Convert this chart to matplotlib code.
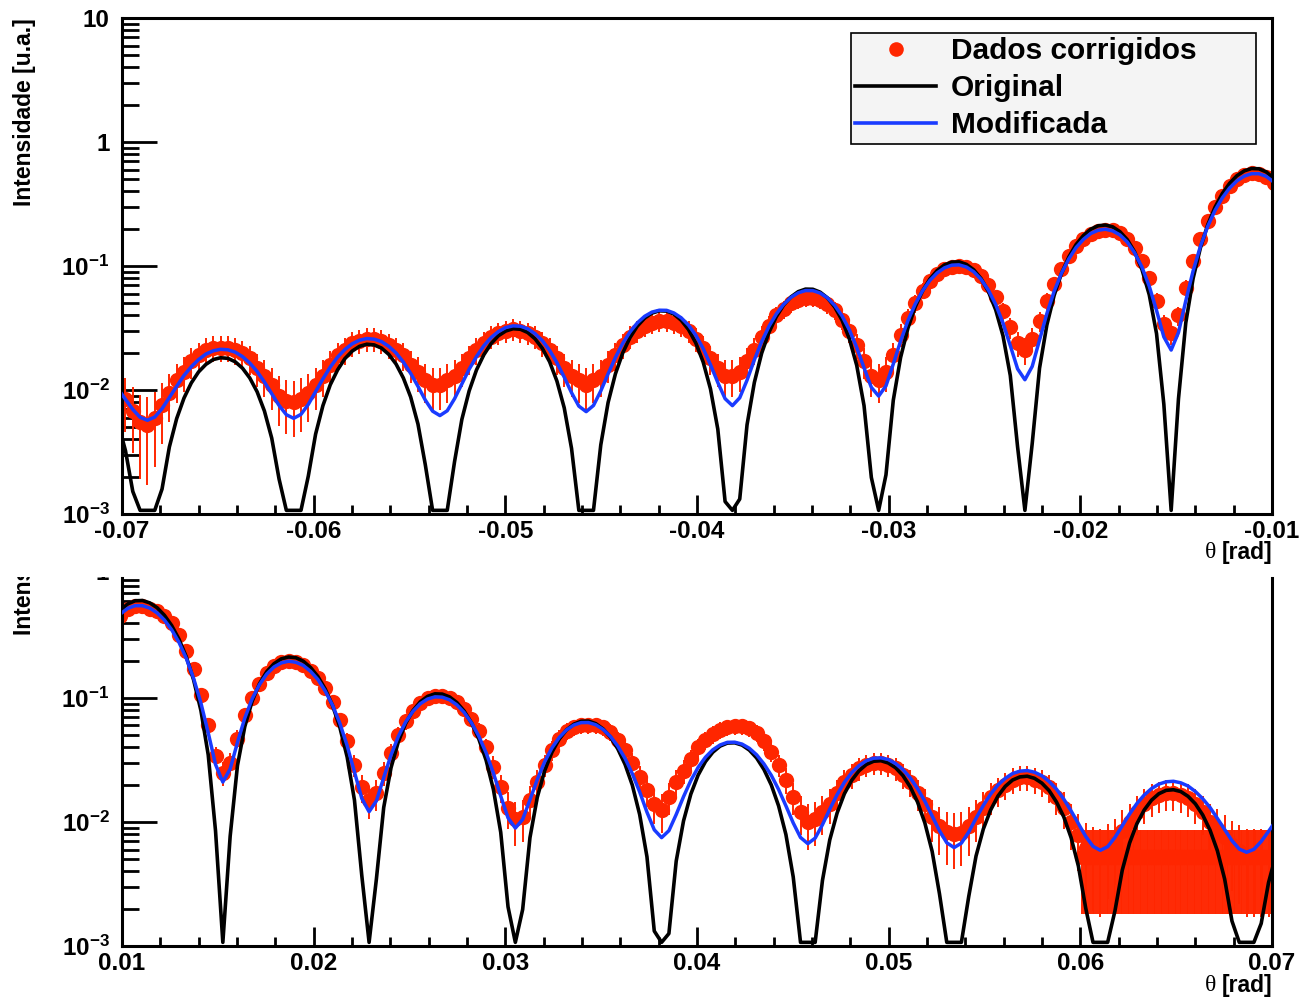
import numpy as np
import matplotlib
matplotlib.use("Agg")
import matplotlib.pyplot as plt
from matplotlib.lines import Line2D
from matplotlib.ticker import LogLocator, MultipleLocator, NullFormatter
from matplotlib.transforms import Bbox, TransformedBbox, blended_transform_factory

plt.rcParams['font.family'] = ['Liberation Sans', 'DejaVu Sans']
plt.rcParams['font.weight'] = 'bold'
plt.rcParams['mathtext.fontset'] = 'custom'
plt.rcParams['mathtext.rm'] = 'Liberation Sans:bold'
plt.rcParams['mathtext.it'] = 'Liberation Sans:bold'
plt.rcParams['mathtext.bf'] = 'Liberation Sans:bold'
plt.rcParams['axes.unicode_minus'] = False

# |theta| sampling positions [rad], shared by both halves of the pattern
theta_abs = np.linspace(0.00992, 0.07020, 159)

# Model curves (symmetric in theta)
original = [
    0.510, 0.574, 0.608, 0.611, 0.585, 0.535, 0.465, 0.384, 0.298, 0.215, 0.140, 0.0793, 0.0348, 0.00848, 0,
    0.00767, 0.0285, 0.0587, 0.0940, 0.130, 0.163, 0.189, 0.207, 0.214, 0.211, 0.198, 0.176, 0.149, 0.118, 0.0871, 0.0580, 0.0334, 0.0150, 0.00371, 0,
    0.00347, 0.0131, 0.0274, 0.0444, 0.0624, 0.0792, 0.0932, 0.103, 0.108, 0.1075, 0.102, 0.0919, 0.0785, 0.0630, 0.0468, 0.0315, 0.0183, 0.00827, 0.00207, 0,
    0.00197, 0.00748, 0.0158, 0.0258, 0.0365, 0.0466, 0.0553, 0.0615, 0.0649, 0.0651, 0.0621, 0.0563, 0.0484, 0.0390, 0.0292, 0.0198, 0.0115, 0.00524, 0.00132, 0,
    0.00126, 0.00484, 0.0102, 0.0168, 0.0239, 0.0307, 0.0365, 0.0409, 0.0433, 0.0435, 0.0417, 0.0380, 0.0328, 0.0265, 0.0199, 0.0135, 0.00793, 0.00361, 0.00091, 0,
    0.00088, 0.00338, 0.00718, 0.0118, 0.0169, 0.0217, 0.0259, 0.0291, 0.0309, 0.0312, 0.0299, 0.0274, 0.0237, 0.0192, 0.0145, 0.00984, 0.00579, 0.00264, 0.00067, 0,
    0.00065, 0.00250, 0.00531, 0.00878, 0.0125, 0.0162, 0.0194, 0.0218, 0.0231, 0.0234, 0.0225, 0.0206, 0.0179, 0.0145, 0.0110, 0.00748, 0.00441, 0.00202, 0.00051, 0,
    0.00050, 0.00192, 0.00409, 0.00677, 0.00968, 0.0125, 0.0150, 0.0169, 0.0180, 0.0182, 0.0176, 0.0161, 0.0140, 0.0114, 0.0086, 0.00588, 0.00347, 0.00159, 0.00040, 0,
    0.00039, 0.00152, 0.00324, 0.00538,
]
modificada = [
    0.477, 0.528, 0.555, 0.555, 0.531, 0.486, 0.426, 0.355, 0.281, 0.209, 0.144, 0.0912, 0.0524, 0.0291, 0.0210,
    0.0268, 0.0438, 0.0688, 0.0982, 0.128, 0.156, 0.178, 0.192, 0.198, 0.194, 0.183, 0.164, 0.141, 0.114, 0.0875, 0.0625, 0.0413, 0.0253, 0.0155, 0.0121,
    0.0148, 0.0228, 0.0347, 0.0490, 0.0640, 0.0781, 0.0899, 0.0981, 0.1021, 0.1015, 0.0967, 0.0880, 0.0765, 0.0631, 0.0493, 0.0362, 0.0248, 0.0162, 0.0108, 0.00893,
    0.0105, 0.0151, 0.0220, 0.0305, 0.0395, 0.0480, 0.0553, 0.0605, 0.0633, 0.0634, 0.0608, 0.0558, 0.0490, 0.0410, 0.0326, 0.0245, 0.0175, 0.0120, 0.00865, 0.00748,
    0.00851, 0.0115, 0.0160, 0.0216, 0.0276, 0.0333, 0.0382, 0.0418, 0.0439, 0.0440, 0.0425, 0.0393, 0.0348, 0.0294, 0.0238, 0.0183, 0.0135, 0.00983, 0.0075, 0.00669,
    0.00741, 0.00951, 0.0127, 0.0166, 0.0209, 0.0250, 0.0285, 0.0312, 0.0327, 0.0329, 0.0319, 0.0296, 0.0265, 0.0227, 0.0186, 0.0147, 0.0112, 0.0085, 0.0068, 0.00622,
    0.00675, 0.0083, 0.0107, 0.0136, 0.0168, 0.0199, 0.0225, 0.0246, 0.0257, 0.0260, 0.0252, 0.0236, 0.0212, 0.0184, 0.0153, 0.0123, 0.0097, 0.00765, 0.00636, 0.00591,
    0.00632, 0.00751, 0.00935, 0.0116, 0.0141, 0.0165, 0.0186, 0.0202, 0.0211, 0.0213, 0.0207, 0.0195, 0.0176, 0.0154, 0.0131, 0.0107, 0.0087, 0.00707, 0.00605, 0.0057,
    0.00602, 0.00697, 0.0084, 0.0102,
]

# Corrected data, negative side (ordered by |theta|)
dados_neg = [
    0.47, 0.52, 0.55, 0.56, 0.54, 0.50, 0.44, 0.37, 0.30, 0.23, 0.165, 0.11, 0.067, 0.040, 0.029,
    0.034, 0.052, 0.080, 0.11, 0.14, 0.165, 0.185, 0.195, 0.195, 0.19, 0.18, 0.165, 0.145, 0.12, 0.095, 0.072, 0.052, 0.036, 0.026, 0.021,
    0.024, 0.032, 0.043, 0.056, 0.070, 0.083, 0.093, 0.099, 0.10, 0.099, 0.094, 0.086, 0.075, 0.063, 0.050, 0.038, 0.028, 0.019, 0.014, 0.012,
    0.013, 0.017, 0.023, 0.030, 0.037, 0.044, 0.049, 0.053, 0.055, 0.055, 0.053, 0.050, 0.045, 0.040, 0.033, 0.027, 0.021, 0.017, 0.014, 0.013,
    0.013, 0.015, 0.018, 0.022, 0.026, 0.030, 0.033, 0.035, 0.036, 0.036, 0.035, 0.033, 0.030, 0.027, 0.023, 0.019, 0.016, 0.013, 0.012, 0.011,
    0.012, 0.013, 0.015, 0.018, 0.021, 0.024, 0.027, 0.029, 0.030, 0.031, 0.030, 0.029, 0.027, 0.024, 0.021, 0.018, 0.015, 0.013, 0.012, 0.011,
    0.011, 0.012, 0.014, 0.016, 0.019, 0.021, 0.023, 0.025, 0.026, 0.026, 0.025, 0.024, 0.021, 0.019, 0.016, 0.013, 0.011, 0.0095, 0.0085, 0.008,
    0.0082, 0.009, 0.011, 0.013, 0.015, 0.018, 0.020, 0.021, 0.022, 0.022, 0.022, 0.021, 0.019, 0.017, 0.014, 0.012, 0.0095, 0.0075, 0.006, 0.0052,
    0.0055, 0.0068, 0.0085, 0.010,
]
erro_neg = [
    0.050, 0.055, 0.058, 0.059, 0.057, 0.053, 0.047, 0.040, 0.033, 0.026, 0.020, 0.014, 0.0097, 0.0070, 0.0059,
    0.0064, 0.0082, 0.011, 0.014, 0.017, 0.020, 0.022, 0.023, 0.023, 0.022, 0.021, 0.020, 0.018, 0.015, 0.013, 0.010, 0.0082, 0.0066, 0.0056, 0.0051,
    0.0054, 0.0062, 0.0073, 0.0086, 0.010, 0.011, 0.012, 0.013, 0.013, 0.013, 0.012, 0.012, 0.011, 0.0093, 0.0080, 0.0068, 0.0058, 0.0049, 0.0044, 0.0042,
    0.0043, 0.0047, 0.0053, 0.0060, 0.0067, 0.0074, 0.0079, 0.0083, 0.0085, 0.0085, 0.0083, 0.0080, 0.0075, 0.0070, 0.0063, 0.0057, 0.0051, 0.0047, 0.0044, 0.0043,
    0.0043, 0.0045, 0.0048, 0.0052, 0.0056, 0.0060, 0.0063, 0.0065, 0.0066, 0.0066, 0.0065, 0.0063, 0.0060, 0.0057, 0.0053, 0.0049, 0.0046, 0.0043, 0.0042, 0.0041,
    0.0042, 0.0043, 0.0045, 0.0048, 0.0051, 0.0054, 0.0057, 0.0059, 0.0060, 0.0061, 0.0060, 0.0059, 0.0057, 0.0054, 0.0051, 0.0048, 0.0045, 0.0043, 0.0042, 0.0041,
    0.0041, 0.0042, 0.0044, 0.0046, 0.0049, 0.0051, 0.0053, 0.0055, 0.0056, 0.0056, 0.0055, 0.0054, 0.0051, 0.0049, 0.0046, 0.0043, 0.0041, 0.0040, 0.0039, 0.0038,
    0.0038, 0.0039, 0.0041, 0.0043, 0.0045, 0.0048, 0.0050, 0.0051, 0.0052, 0.0052, 0.0052, 0.0051, 0.0049, 0.0047, 0.0044, 0.0042, 0.0040, 0.0038, 0.0036, 0.0035,
    0.0036, 0.0037, 0.0039, 0.0040,
]

# Corrected data, positive side
dados_pos = [
    0.46, 0.52, 0.55, 0.55, 0.52, 0.50, 0.46, 0.40, 0.32, 0.24, 0.17, 0.105, 0.060, 0.034, 0.025,
    0.030, 0.047, 0.073, 0.10, 0.13, 0.16, 0.18, 0.195, 0.20, 0.195, 0.185, 0.165, 0.145, 0.12, 0.092, 0.066, 0.045, 0.029, 0.019, 0.015,
    0.017, 0.025, 0.036, 0.050, 0.065, 0.079, 0.091, 0.10, 0.104, 0.104, 0.10, 0.092, 0.081, 0.068, 0.054, 0.040, 0.028, 0.019, 0.013, 0.0105,
    0.011, 0.015, 0.021, 0.029, 0.038, 0.047, 0.054, 0.058, 0.060, 0.060, 0.060, 0.058, 0.053, 0.046, 0.038, 0.030, 0.023, 0.018, 0.014, 0.0125,
    0.016, 0.021, 0.026, 0.032, 0.040, 0.046, 0.051, 0.055, 0.058, 0.059, 0.059, 0.057, 0.052, 0.045, 0.037, 0.029, 0.022, 0.016, 0.012, 0.010,
    0.0105, 0.012, 0.014, 0.017, 0.021, 0.024, 0.027, 0.029, 0.030, 0.030, 0.029, 0.027, 0.024, 0.021, 0.017, 0.014, 0.011, 0.0093, 0.0083, 0.008,
    0.0082, 0.0092, 0.011, 0.013, 0.016, 0.018, 0.020, 0.022, 0.023, 0.023, 0.022, 0.021, 0.019, 0.016, 0.013, 0.010, 0.0078, 0.0062, 0.0055, 0.0052,
    0.0060, 0.0068, 0.0085, 0.010, 0.012, 0.014, 0.0155, 0.0165, 0.017, 0.017, 0.0165, 0.0155, 0.014, 0.012, 0.010, 0.0088, 0.0075, 0.0065, 0.0058, 0.0052,
    0.0052, 0.0052, 0.0052, 0.0052,
]
erro_pos = [
    0.049, 0.055, 0.058, 0.058, 0.055, 0.053, 0.049, 0.043, 0.035, 0.027, 0.020, 0.014, 0.0090, 0.0064, 0.0055,
    0.0060, 0.0077, 0.010, 0.013, 0.016, 0.019, 0.021, 0.023, 0.023, 0.023, 0.022, 0.020, 0.018, 0.015, 0.012, 0.0096, 0.0075, 0.0059, 0.0049, 0.0045,
    0.0047, 0.0055, 0.0066, 0.0080, 0.0095, 0.011, 0.012, 0.013, 0.013, 0.013, 0.013, 0.012, 0.011, 0.0098, 0.0084, 0.0070, 0.0058, 0.0049, 0.0043, 0.0041,
    0.0041, 0.0045, 0.0051, 0.0059, 0.0068, 0.0077, 0.0084, 0.0088, 0.0090, 0.0090, 0.0090, 0.0088, 0.0083, 0.0076, 0.0068, 0.0060, 0.0053, 0.0048, 0.0044, 0.0043,
    0.0046, 0.0051, 0.0056, 0.0062, 0.0070, 0.0076, 0.0081, 0.0085, 0.0088, 0.0089, 0.0089, 0.0087, 0.0082, 0.0075, 0.0067, 0.0059, 0.0052, 0.0046, 0.0042, 0.0040,
    0.0041, 0.0042, 0.0044, 0.0047, 0.0051, 0.0054, 0.0057, 0.0059, 0.0060, 0.0060, 0.0059, 0.0057, 0.0054, 0.0051, 0.0047, 0.0044, 0.0041, 0.0039, 0.0038, 0.0038,
    0.0038, 0.0039, 0.0041, 0.0043, 0.0046, 0.0048, 0.0050, 0.0052, 0.0053, 0.0053, 0.0052, 0.0051, 0.0049, 0.0046, 0.0043, 0.0040, 0.0038, 0.0036, 0.0036, 0.0035,
    0.0036, 0.0037, 0.0039, 0.0040, 0.0042, 0.0044, 0.0046, 0.0047, 0.0047, 0.0047, 0.0047, 0.0046, 0.0044, 0.0042, 0.0040, 0.0039, 0.0038, 0.0037, 0.0036, 0.0035,
    0.0035, 0.0035, 0.0035, 0.0035,
]

# Densely sampled flat background at the far positive end (0.060-0.070 rad)
theta_fundo = np.linspace(0.0601, 0.0700, 110)
nivel_fundo, erro_fundo = 0.0052, 0.0034

y_ticks = [1e-3, 1e-2, 1e-1, 1, 10]
y_tick_labels = [r'$10^{-3}$', r'$10^{-2}$', r'$10^{-1}$', '1', '10']
x_ticks_neg = [-0.07, -0.06, -0.05, -0.04, -0.03, -0.02, -0.01]
x_labels_neg = ['-0.07', '-0.06', '-0.05', '-0.04', '-0.03', '-0.02', '-0.01']
x_ticks_pos = [0.01, 0.02, 0.03, 0.04, 0.05, 0.06, 0.07]
x_labels_pos = ['0.01', '0.02', '0.03', '0.04', '0.05', '0.06', '0.07']

legend_labels = ['Dados corrigidos', 'Original', 'Modificada']
y_title = 'Intensidade [u.a.]'
x_symbol, x_unit = '\u03b8', '[rad]'

RED = '#ff2600'
BLUE = '#1a3bff'
FLOOR = 1.07e-3   # values below the axis minimum are drawn on the floor
TICK_FS = 17.5

W, H = 1299, 997
fig = plt.figure(figsize=(W / 100, H / 100), dpi=100)

ax_top = fig.add_axes([122 / W, 1 - 514 / H, 1150 / W, 496 / H])
ax_bot = fig.add_axes([122 / W, 1 - 946 / H, 1150 / W, 368 / H])


def style_axis(ax, ylim, xlim, xt, xl):
    ax.set_yscale('log')
    ax.set_yticks(y_ticks)
    ax.set_yticklabels(y_tick_labels)
    ax.yaxis.set_minor_locator(LogLocator(base=10, subs=[2, 3, 4, 5, 6, 7, 8, 9], numticks=20))
    ax.yaxis.set_minor_formatter(NullFormatter())
    ax.set_ylim(*ylim)
    ax.set_xticks(xt)
    ax.set_xticklabels(xl)
    ax.xaxis.set_minor_locator(MultipleLocator(0.002))
    ax.set_xlim(*xlim)
    for sp in ax.spines.values():
        sp.set_linewidth(2.2)
        sp.set_color('black')
    ax.tick_params(axis='both', which='both', direction='in', color='black',
                   top=False, right=False, width=2.0)
    ax.tick_params(axis='y', which='major', length=25, pad=9, labelsize=TICK_FS)
    ax.tick_params(axis='y', which='minor', length=12.5)
    ax.tick_params(axis='x', which='major', length=14, pad=4, labelsize=TICK_FS)
    ax.tick_params(axis='x', which='minor', length=6.5)


ERR_STYLE = dict(fmt='o', ms=11, color=RED, mec=RED, mew=0, ecolor=RED,
                 elinewidth=1.4, capsize=5, capthick=1.4, zorder=2)


def draw_panel(ax, x, dados, erro):
    ax.errorbar(x, dados, yerr=erro, **ERR_STYLE)
    ax.plot(x, np.maximum(np.asarray(original), FLOOR), color='black', lw=2.6, zorder=3)
    ax.plot(x, modificada, color=BLUE, lw=2.5, zorder=4)


draw_panel(ax_top, -theta_abs, dados_neg, erro_neg)
draw_panel(ax_bot, theta_abs, dados_pos, erro_pos)
ax_bot.errorbar(theta_fundo, np.full(theta_fundo.size, nivel_fundo), yerr=erro_fundo, **ERR_STYLE)

style_axis(ax_top, (1e-3, 10), (-0.07, -0.01), x_ticks_neg, x_labels_neg)
style_axis(ax_bot, (1e-3, 0.928), (0.01, 0.07), x_ticks_pos, x_labels_pos)
ax_bot.spines['top'].set_visible(False)

# Legend
handles = [
    Line2D([0], [0], ls='none', marker='o', ms=10.5, color=RED, mew=0),
    Line2D([0], [0], color='black', lw=2.6),
    Line2D([0], [0], color=BLUE, lw=2.6),
]
leg = fig.legend(handles, legend_labels, loc='upper left',
                 bbox_to_anchor=(851 / W, 1 - 143 / H, 405 / W, 110 / H), mode='expand',
                 borderaxespad=0, fontsize=21.5, handlelength=2.7, handletextpad=0.5,
                 borderpad=0.15, labelspacing=0.3, fancybox=False, framealpha=1,
                 facecolor='#f4f4f4', edgecolor='black', numpoints=1)
leg.get_frame().set_linewidth(1.2)

# Axis titles
fig.text(25 / W, 1 - 18 / H, y_title, rotation=90, ha='center', va='top', fontsize=16.5)

renderer = fig.canvas.get_renderer()
for y_px in (552, 985):
    t_unit = fig.text(1272 / W, 1 - y_px / H, x_unit, ha='right', va='center', fontsize=16.5)
    bb = t_unit.get_window_extent(renderer)
    fig.text((bb.x0 - 5) / W, 1 - y_px / H, x_symbol, ha='right', va='center',
             fontsize=17, family='Liberation Serif', weight='normal')

# Lower pad: its upper edge cuts the title and the top tick label
pad_clip = TransformedBbox(Bbox([[0, 0], [1, 1 - 577 / H]]), fig.transFigure)
t_title = fig.text(25 / W, 1 - 635 / H, y_title, rotation=90, ha='center', va='bottom', fontsize=16.5)
t_title.set_clip_box(pad_clip)
t_title.set_clip_on(True)
trans_bot = blended_transform_factory(ax_bot.transAxes, ax_bot.transData)
t_one = fig.text(-13 / 1150, 1.0, '1', transform=trans_bot, ha='right', va='center', fontsize=TICK_FS)
t_one.set_clip_box(pad_clip)
t_one.set_clip_on(True)

fig.savefig('out.png', dpi=100)
